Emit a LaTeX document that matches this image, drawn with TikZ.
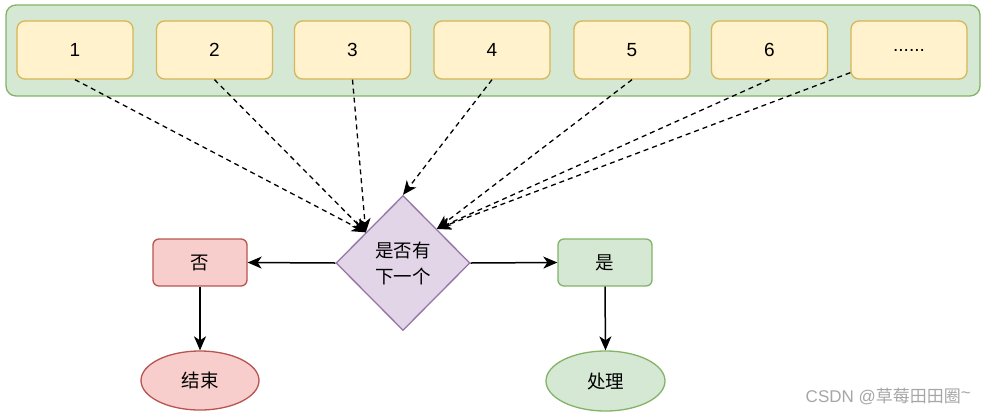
\documentclass[tikz,border=0pt]{standalone}
\usepackage{fontspec}
\setmainfont{Liberation Sans}
\newfontfamily\cjk{Noto Sans CJK SC}
\usetikzlibrary{shapes.geometric,arrows.meta,calc}
\definecolor{gfill}{HTML}{D5E8D4}\definecolor{gline}{HTML}{82B366}
\definecolor{yfill}{HTML}{FFF2CC}\definecolor{yline}{HTML}{D6B656}
\definecolor{rfill}{HTML}{F8CECC}\definecolor{rline}{HTML}{B85450}
\definecolor{pfill}{HTML}{E1D5E7}\definecolor{pline}{HTML}{9673A6}
\definecolor{wmark}{HTML}{A6A6A6}
\tikzset{
  cont/.style={draw=gline, fill=gfill, line width=1.3pt, rounded corners=10pt, minimum width=974pt, minimum height=91pt},
  item/.style={draw=yline, fill=yfill, line width=1.3pt, rounded corners=8pt, minimum width=116pt, minimum height=58pt, font=\fontsize{19}{22}\selectfont},
  decide/.style={diamond, draw=pline, fill=pfill, line width=1.3pt, minimum width=134pt, minimum height=135pt, inner sep=0pt, align=center, font=\cjk\fontsize{18.5}{26}\selectfont},
  rbox/.style={draw=rline, fill=rfill, line width=1.3pt, rounded corners=6pt, minimum width=94pt, minimum height=47pt, font=\cjk\fontsize{18.5}{22}\selectfont},
  gbox/.style={draw=gline, fill=gfill, line width=1.3pt, rounded corners=6pt, minimum width=94pt, minimum height=47pt, font=\cjk\fontsize{18.5}{22}\selectfont},
  rell/.style={ellipse, draw=rline, fill=rfill, line width=1.3pt, minimum width=118pt, minimum height=59pt, inner sep=0pt, font=\cjk\fontsize{18.5}{22}\selectfont},
  gell/.style={ellipse, draw=gline, fill=gfill, line width=1.3pt, minimum width=119pt, minimum height=60pt, inner sep=0pt, font=\cjk\fontsize{18.5}{22}\selectfont},
  dasharr/.style={-{Stealth[length=14pt,width=12pt,inset=4pt]}, line width=1.3pt, dash pattern=on 5pt off 4pt},
  solidarr/.style={-{Stealth[length=14pt,width=12pt,inset=4pt]}, line width=1.5pt},
}
\begin{document}
\begin{tikzpicture}[x=1pt,y=-1pt]
\useasboundingbox (0,0) rectangle (985,416);
\node[cont] (c) at (493,50.5) {};
\node[item] (b1) at (75,50) {1};
\node[item] (b2) at (214.5,50) {2};
\node[item] (b3) at (352.5,50) {3};
\node[item] (b4) at (492,50) {4};
\node[item] (b5) at (632,50) {5};
\node[item] (b6) at (769.5,50) {6};
\node[item] (b7) at (909,50) {......};
\node[decide] (d) at (403,263) {是否有\\下一个};
\node[rbox] (no) at (200,262.5) {否};
\node[gbox] (yes) at (605,262.5) {是};
\node[rell] (end) at (200,380.5) {结束};
\node[gell] (proc) at (605.5,381) {处理};
\node[anchor=east, text=wmark, inner sep=0pt, font=\fontsize{17}{20}\selectfont] (wm) at (971,397) {CSDN @{\cjk 草莓田田圈}\raisebox{0.5ex}{\textasciitilde}};
\coordinate (dl) at ($(d.west)!0.45!(d.north)$);
\coordinate (dr) at ($(d.north)!0.5!(d.east)$);
\draw[dasharr] (b1.south) -- (dl);
\draw[dasharr] (b2.south) -- (dl);
\draw[dasharr] (b3.south) -- (dl);
\draw[dasharr] (b4.south) -- (d.north);
\draw[dasharr] (b5.south) -- (dr);
\draw[dasharr] (b6.south) -- (dr);
\draw[dasharr] ([yshift=7pt]b7.south west) -- (dr);
\draw[solidarr] (d.west) -- (no.east);
\draw[solidarr] (d.east) -- (yes.west);
\draw[solidarr] (no.south) -- (end.north);
\draw[solidarr] (yes.south) -- (proc.north);
\end{tikzpicture}
\end{document}
